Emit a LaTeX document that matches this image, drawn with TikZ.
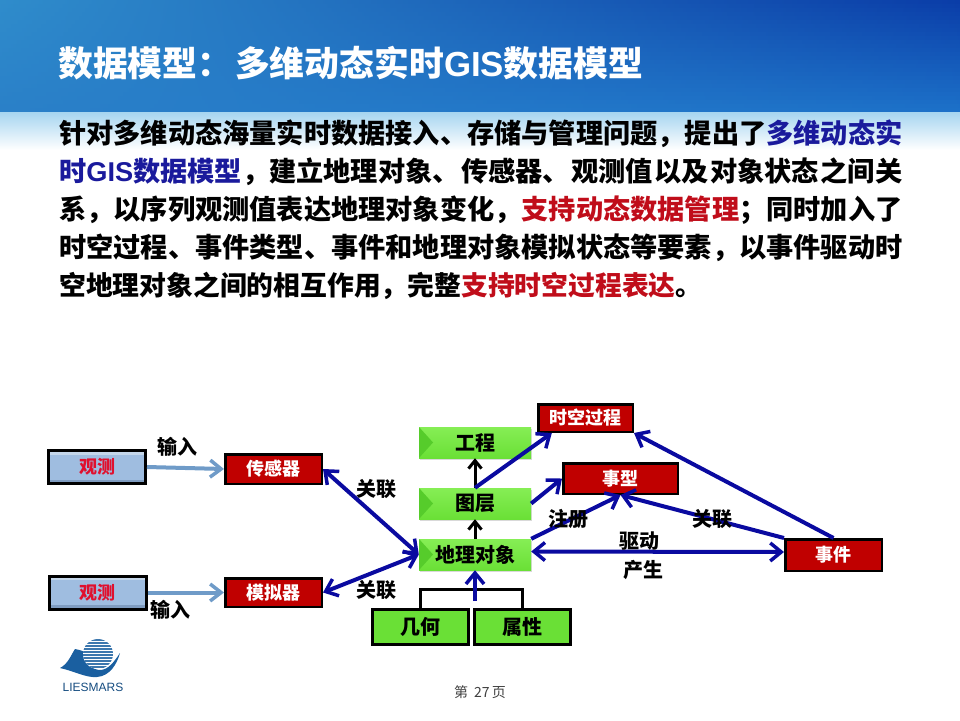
\documentclass[tikz,border=0pt]{standalone}
\usepackage{fontspec}
\setmainfont{Noto Sans CJK SC}
\newfontfamily\latinfont{Liberation Sans}
\usetikzlibrary{arrows.meta,calc,shadows}
\definecolor{topleft}{HTML}{2F8CCB}
\definecolor{topmid}{HTML}{0E50B8}
\definecolor{topright}{HTML}{0A3DA8}
\definecolor{lowleft}{HTML}{2A80C8}
\definecolor{lowmid}{HTML}{2B86D6}
\definecolor{lowright}{HTML}{1C70C8}
\definecolor{glowblue}{HTML}{A6D5F0}
\definecolor{boxred}{HTML}{C00000}
\definecolor{boxgreen}{HTML}{6AE036}
\definecolor{edgegreen}{HTML}{56CC2B}
\definecolor{topgreen}{HTML}{86EE55}
\definecolor{obsblue}{HTML}{9FBDE0}
\definecolor{obslight}{HTML}{C4D6EA}
\definecolor{obsdark}{HTML}{7F9CC0}
\definecolor{obsred}{HTML}{E0102E}
\definecolor{flowblue}{HTML}{0A0AA0}
\definecolor{inputblue}{HTML}{6F9BC8}
\definecolor{textblue}{HTML}{1A1A9C}
\definecolor{textred}{HTML}{C00D1A}
\definecolor{logoblue}{HTML}{1A5FA0}
\begin{document}
\begin{tikzpicture}[
        x=1pt, y=-1pt,
        redbox/.style={rectangle, draw=black, line width=2.5, fill=boxred, text=white, font=\bfseries\fontsize{18}{20}\selectfont, inner sep=0},
        obsbox/.style={rectangle, draw=black, line width=3, fill=obsblue, text=obsred, font=\bfseries\fontsize{18}{20}\selectfont, inner sep=0,
            minimum width=97, minimum height=33,
            path picture={
                \fill[obslight] (path picture bounding box.north west) rectangle ([yshift=-4]path picture bounding box.north east);
                \fill[obsdark] (path picture bounding box.south west) rectangle ([yshift=4]path picture bounding box.south east);
            }},
        greenbox/.style={rectangle, top color=topgreen, bottom color=boxgreen, font=\bfseries\fontsize{20}{22}\selectfont, inner sep=0,
            minimum width=112, minimum height=31, drop shadow={shadow xshift=1, shadow yshift=2, opacity=0.3},
            path picture={
                \fill[edgegreen] (path picture bounding box.north west) -- (path picture bounding box.south west)
                    -- ($(path picture bounding box.west)+(14,0)$) -- cycle;
            }},
        basebox/.style={rectangle, draw=black, line width=3, fill=boxgreen, font=\bfseries\fontsize{20}{22}\selectfont, inner sep=0,
            minimum width=96, minimum height=35},
        flow/.style={draw=flowblue, line width=4, -{Straight Barb[length=11, width=18, line width=3.5]}},
        flowboth/.style={draw=flowblue, line width=4, {Straight Barb[length=11, width=18, line width=3.5]}-{Straight Barb[length=11, width=18, line width=3.5]}},
        inputflow/.style={draw=inputblue, line width=4, -{Straight Barb[length=11, width=17, line width=3.5]}},
        upflow/.style={draw=black, line width=3, -{Straight Barb[length=8, width=13, line width=3]}},
        tag/.style={font=\bfseries\fontsize{20}{22}\selectfont, inner sep=0}
    ]
        \useasboundingbox (0,0) rectangle (960,720);

        % Banner
        \foreach \row in {0,4,...,108} {
            \pgfmathtruncatemacro{\share}{100-\row/1.08}
            \shade[left color=topleft!\share!lowleft, middle color=topmid!\share!lowmid, right color=topright!\share!lowright]
                (0,\row) rectangle (960,\row+4.5);
        }
        \shade[top color=glowblue, bottom color=white] (0,112) rectangle (960,150);

        \node[anchor=west, inner sep=0, text=white, font=\bfseries\fontsize{34.8}{38}\selectfont] (title) at (58,63) {数据模型：\hspace{3pt}多维动态实时{\latinfont GIS}数据模型};

        % Body text
        \node[anchor=north west, inner sep=0, align=left, font=\bfseries\fontsize{27.2}{38}\selectfont] (body) at (59,120) {%
            针对多维动态海量实时数据接入、存储与管理问题，提出了\textcolor{textblue}{多维动态实}\\
            \hbox to 844pt{\textcolor{textblue}{时{\latinfont GIS}数据模型}，建立地理对象、\hfill 传感器、\hfill 观测值\hfill 以及\hfill 对象状态\hfill 之间\hfill 关}\\
            系，以序列观测值表达地理对象变化，\textcolor{textred}{支持动态数据管理}；同时加入了\\
            时空过程、事件类型、事件和地理对象模拟状态等要素，以事件驱动时\\
            {\fontsize{26.8}{38}\selectfont 空地理对象之间的相互作用，完整\textcolor{textred}{支持时空过程表达}。}};

        % Left column
        \node[obsbox] (obsa) at (97,467) {观测};
        \node[obsbox] (obsb) at (97.5,592.5) {观测};
        \node[redbox, minimum width=96.5, minimum height=29.5] (sensor) at (273.5,469) {传感器};
        \node[redbox, minimum width=96.5, minimum height=28.5] (simulator) at (273.5,592.5) {模拟器};

        % Green stack
        \node[greenbox] (project) at (475,442.5) {工程};
        \node[greenbox] (layer) at (475,503.5) {图层};
        \node[greenbox] (object) at (475,554.5) {地理对象};
        \node[basebox] (geometry) at (420,627) {几何};
        \node[basebox] (attribute) at (522,627) {属性};

        % Right side
        \node[redbox, minimum width=94.5, minimum height=27.5] (process) at (585.5,418) {时空过程};
        \node[redbox, minimum width=114.5, minimum height=30.5] (etype) at (620.5,478.5) {事型};
        \node[redbox, minimum width=96.5, minimum height=31.5] (event) at (833.5,555) {事件};

        % Input arrows
        \draw[inputflow] (obsa.east) -- (sensor.west);
        \draw[inputflow] (obsb.east) -- (simulator.west);

        % Associations
        \draw[flowboth] (sensor.east) -- (object.west);
        \draw[flowboth] (simulator.east) -- (object.west);
        \draw[flowboth] ([yshift=3]object.east) -- ([yshift=3]event.west);

        % Stack arrows
        \draw[upflow] (object.north) -- (layer.south);
        \draw[upflow] (layer.north) -- (project.south);
        \draw[line width=3] (geometry.north) -- ++(0,-19) coordinate (treeleft) -| (attribute.north);
        \coordinate (treemid) at (475,601);
        \draw[flow] (treemid) -- (object.south);

        % Links to the red boxes
        \draw[flow] (layer.north) -- (process.204);
        \draw[flow] (layer.east) -- (etype.west);
        \draw[flow] (object.north east) -- (etype.south);
        \draw[flow] (event.north west) -- (etype.south);
        \draw[flow] (event.north) -- (process.south east);

        % Labels
        \node[tag] (inputa) at (177,447) {输入};
        \node[tag] (inputb) at (170,610) {输入};
        \node[tag] (linka) at (376,489) {关联};
        \node[tag] (linkb) at (376,590) {关联};
        \node[tag] (register) at (568,519) {注册};
        \node[tag] (linkc) at (712,519) {关联};
        \node[tag] (drive) at (639,541) {驱动};
        \node[tag] (produce) at (643,570) {产生};

        % Logo
        \fill[logoblue] (60,668) .. controls (68,664) and (71,655) .. (75,649) .. controls (80,650) and (83,651) .. (85,652)
            .. controls (85,662) and (92,670) .. (100,670) .. controls (108,670) and (114,662) .. (120,653)
            .. controls (117,664) and (110,676) .. (97,677) .. controls (86,678) and (74,671) .. (60,668) -- cycle;
        \begin{scope}
            \clip (98,654) circle (15);
            \fill[white] (98,654) circle (15);
            \foreach \stripe in {640,643,...,670}
                \draw[logoblue!85, line width=1.5] (80,\stripe) -- (116,\stripe);
        \end{scope}
        \node[inner sep=0, text=logoblue!80!black, font=\latinfont\fontsize{12}{14}\selectfont] (logotext) at (93,687) {LIESMARS};

        % Page number
        \node[inner sep=0, text=black!75, font=\fontsize{14}{16}\selectfont] (page) at (480,692) {第\hspace{6pt}27\hspace{2pt}页};
\end{tikzpicture}
\end{document}
